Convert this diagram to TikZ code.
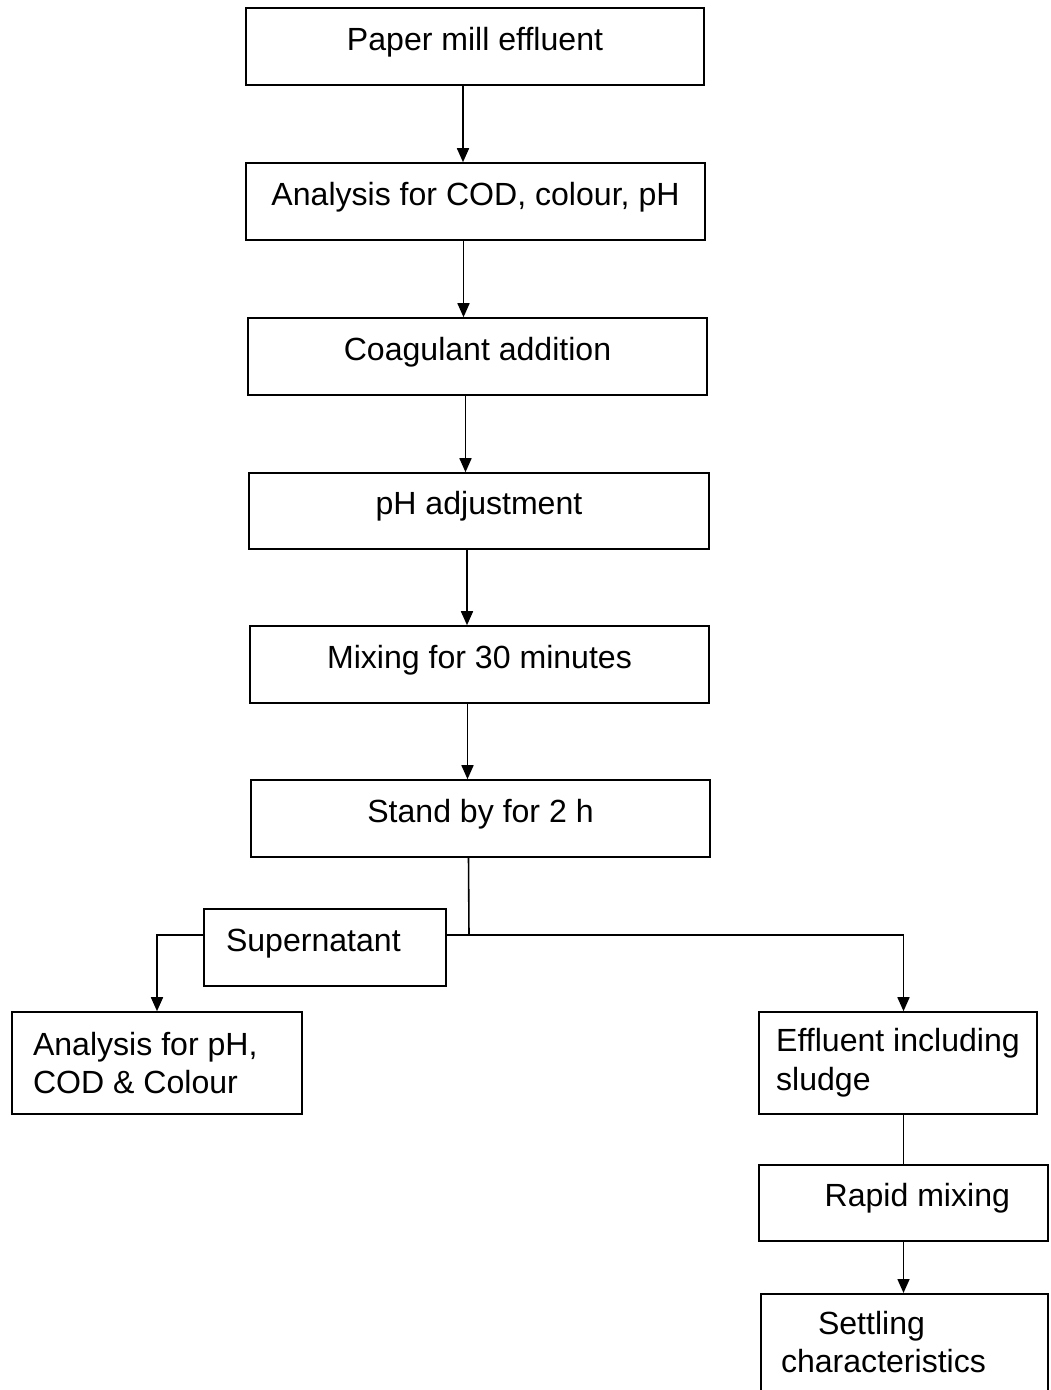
\documentclass[tikz,border=0pt]{standalone}
\usepackage{fontspec}
\setmainfont{Liberation Sans}
\usetikzlibrary{arrows.meta,positioning,calc}

\begin{document}
\begin{tikzpicture}[
    x=0.02cm, y=-0.02cm,
    font=\fontsize{18.25}{22}\selectfont,
    line width=0.9pt,
    % one-line step of the process
    stepbox/.style={draw, rectangle, minimum height=1.54cm,
        text height=0.9em, text depth=0.5em},
    % box whose text is set from one side
    sidebox/.style={draw, rectangle, align=flush left},
    >={Triangle[width=0.24cm,length=0.28cm]},
    ]
    \useasboundingbox (0,0) rectangle (1051,1390);

    %main column
    \node[stepbox, minimum width=9.16cm] (effluent) at (475,46.5) {Paper mill effluent};
    \node[stepbox, minimum width=9.18cm] (analysis) at (475.5,201.5) {Analysis for COD, colour, pH};
    \node[stepbox, minimum width=9.18cm] (coagulant) at (477.5,356.5) {Coagulant addition};
    \node[stepbox, minimum width=9.2cm, minimum height=1.52cm] (phadjust) at (479,511) {pH adjustment};
    \node[stepbox, minimum width=9.18cm] (mixing) at (479.5,664.5) {Mixing for 30 minutes};
    \node[stepbox, minimum width=9.18cm] (standby) at (480.5,818.5) {Stand by for 2 h};

    %split
    \node[stepbox, sidebox, text width=3.96cm, inner xsep=0.44cm] (supernat) at (325,947.5) {Supernatant};
    \coordinate (split) at (469,935);

    %left branch
    \node[sidebox, text width=4.96cm, inner xsep=0.42cm, minimum height=2.04cm] (finalan) at (157,1063)
        {Analysis for pH,\\COD \& Colour};

    %right branch
    \node[sidebox, minimum width=5.56cm, minimum height=2.04cm] (sludge) at (898,1063)
        {Effluent including\\sludge};
    \node[stepbox, align=flush right, text width=4.26cm, inner xsep=0.76cm, minimum height=1.52cm]
        (rapid) at (903.5,1203) {Rapid mixing};
    \node[sidebox, text width=4.94cm, inner xsep=0.4cm, inner ysep=0.34cm, text depth=0.9cm, anchor=north]
        (settling) at (904.5,1293) {\hspace*{0.74cm}Settling\\characteristics};

    %arrows
    \draw[->] ([xshift=-0.24cm]effluent.south) -- ([xshift=-0.24cm]effluent.south |- analysis.north);
    \draw[->] ([xshift=-0.24cm]analysis.south) -- ([xshift=-0.24cm]analysis.south |- coagulant.north);
    \draw[->] ([xshift=-0.24cm]coagulant.south) -- ([xshift=-0.24cm]coagulant.south |- phadjust.north);
    \draw[->] ([xshift=-0.24cm]phadjust.south) -- ([xshift=-0.24cm]phadjust.south |- mixing.north);
    \draw[->] ([xshift=-0.24cm]mixing.south) -- ([xshift=-0.24cm]mixing.south |- standby.north);
    \draw ([xshift=-0.24cm]standby.south) -- (split);
    \draw (split) -- (supernat.east |- split);
    \draw[->] (supernat.west |- split) -| (finalan.north);
    \draw[->] (split) -| (rapid.north |- sludge.north);
    \draw (rapid.north |- sludge.south) -- (rapid.north);
    \draw[->] (rapid.south) -- (rapid.south |- settling.north);

\end{tikzpicture}
\end{document}
